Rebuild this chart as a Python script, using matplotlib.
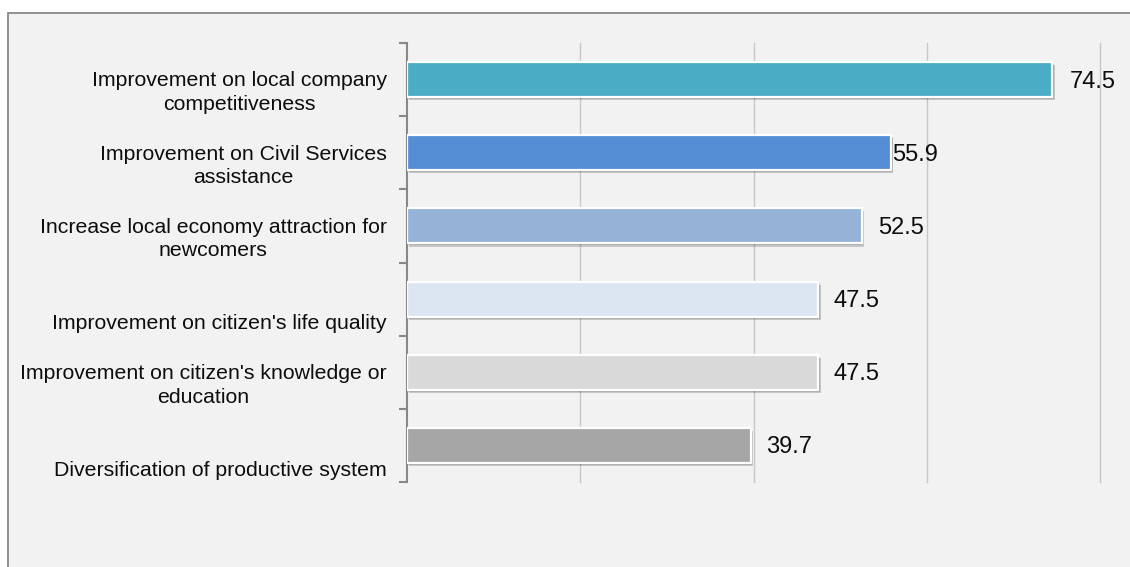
import matplotlib
matplotlib.use("Agg")
import matplotlib.pyplot as plt
import matplotlib.patheffects as pe
from matplotlib.patches import Rectangle
from matplotlib.transforms import offset_copy

# survey results, top to bottom
categories = [
    "Improvement on local company\ncompetitiveness",
    "Improvement on Civil Services\nassistance",
    "Increase local economy attraction for\nnewcomers",
    "Improvement on citizen's life quality",
    "Improvement on citizen's knowledge or\neducation",
    "Diversification of productive system",
]
values = [74.5, 55.9, 52.5, 47.5, 47.5, 39.7]
bar_colors = ["#4bacc6", "#558ed5", "#95b3d7", "#dce6f2", "#d9d9d9", "#a6a6a6"]
label_gap_px = [17, 1, 16, 15, 15, 15]

plt.rcParams["font.family"] = ["Liberation Sans", "DejaVu Sans"]

W, H = 1130, 567
fig = plt.figure(figsize=(W / 100, H / 100), dpi=100)
fig.patch.set_facecolor("white")

# grey chart area with a thin border, running off the right/bottom edge
fig.patches.append(Rectangle((7.5 / W, -0.2), 2.0, 1.2 - 12.5 / H,
                             transform=fig.transFigure, facecolor="#f2f2f2",
                             edgecolor="#888888", linewidth=1.3, zorder=-10))

ax = fig.add_axes([407 / W, 1 - 482 / H, 693 / W, 439 / H])
ax.set_zorder(5)
ax.set_facecolor("none")

ypos = list(range(len(values)))
shadow = [pe.SimplePatchShadow(offset=(1.6, -2.2), shadow_rgbFace="black", alpha=0.18),
          pe.SimplePatchShadow(offset=(1.0, -1.4), shadow_rgbFace="black", alpha=0.15),
          pe.Normal()]
bars = ax.barh(ypos, values, height=0.48, color=bar_colors, edgecolor="white",
               linewidth=1.6, zorder=3)
for b in bars:
    b.set_path_effects(shadow)

ax.set_xlim(0, 80)
ax.set_ylim(len(values) - 0.5, -0.5)
ax.set_xticks([20, 40, 60, 80])
ax.tick_params(axis="x", length=0, labelbottom=False)
ax.grid(axis="x", color="#c8c8c8", linewidth=1.0, zorder=0)
for gl in ax.get_xgridlines():
    gl.set_clip_on(False)

ax.set_yticks([i - 0.5 for i in range(len(values) + 1)])
ax.set_yticklabels([])
ax.tick_params(axis="y", direction="out", length=6, width=1.5, color="#888888")

for side in ["top", "right", "bottom"]:
    ax.spines[side].set_visible(False)
ax.spines["left"].set_color("#888888")
ax.spines["left"].set_linewidth(1.5)

# category labels, bottom-anchored like the original layout
lab_tr = offset_copy(ax.get_yaxis_transform(), fig=fig, x=-20, y=0, units="dots")
for i, txt in enumerate(categories):
    ax.text(0, i + 0.47, txt, transform=lab_tr, ha="right", va="bottom",
            multialignment="center", fontsize=15.3, linespacing=1.3, color="#0d0d0d")

# value labels
for i, v in enumerate(values):
    tr = offset_copy(ax.transData, fig=fig, x=label_gap_px[i], y=0, units="dots")
    ax.text(v, i + 0.11, f"{v:.1f}", transform=tr, ha="left", va="baseline",
            fontsize=17, color="#0d0d0d")

fig.savefig("out.png", dpi=100)
